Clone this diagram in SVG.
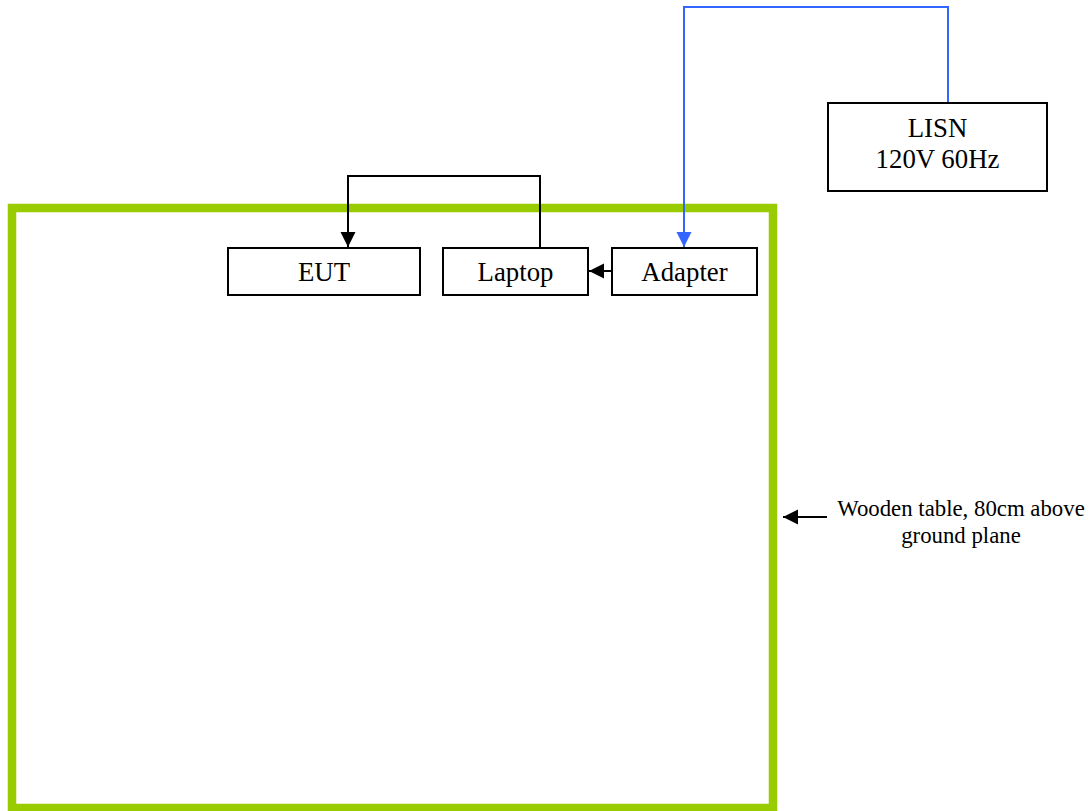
<svg xmlns="http://www.w3.org/2000/svg" width="1092" height="811" viewBox="0 0 1092 811">
<style>
.box{fill:#fff;stroke:#000;stroke-width:2}
.t{font-family:"Liberation Serif","Times New Roman",serif;font-size:26.8px;fill:#000;text-anchor:middle}
.s{font-family:"Liberation Serif","Times New Roman",serif;font-size:22.8px;fill:#000;text-anchor:middle}
.blk{fill:none;stroke:#000;stroke-width:2}
.blu{fill:none;stroke:#3366FF;stroke-width:2}
</style>
<defs>
<marker id="ab" markerUnits="userSpaceOnUse" markerWidth="16" markerHeight="16" refX="15" refY="7.5" orient="auto" viewBox="0 0 16 16"><path d="M0,0 L15,7.5 L0,15 Z" fill="#000"/></marker>
<marker id="au" markerUnits="userSpaceOnUse" markerWidth="16" markerHeight="16" refX="15" refY="7.5" orient="auto" viewBox="0 0 16 16"><path d="M0,0 L15,7.5 L0,15 Z" fill="#3366FF"/></marker>
</defs>
<rect width="1092" height="811" fill="#fff"/>
<g id="table">
<rect x="12" y="208" width="761" height="600" fill="none" stroke="#99CC00" stroke-width="8.5"/>
</g>
<g id="connectors">
<path class="blk" d="M540,247 V176 H348 V247" marker-end="url(#ab)"/>
<path class="blk" d="M612,271 H589" marker-end="url(#ab)"/>
<path class="blu" d="M948,103 V7 H684 V247" marker-end="url(#au)"/>
<path class="blk" d="M827,517 H783" marker-end="url(#ab)"/>
</g>
<g id="eut"><rect class="box" x="228" y="248" width="192" height="47"/><text class="t" x="324" y="281">EUT</text></g>
<g id="laptop"><rect class="box" x="443" y="248" width="145" height="47"/><text class="t" x="515.5" y="281">Laptop</text></g>
<g id="adapter"><rect class="box" x="612" y="248" width="145" height="47"/><text class="t" x="684.5" y="281">Adapter</text></g>
<g id="lisn"><rect class="box" x="828" y="103" width="219" height="88"/><text class="t" x="937.5" y="137">LISN</text><text class="t" x="937.5" y="168">120V 60Hz</text></g>
<g id="label"><text class="s" x="961" y="516">Wooden table, 80cm above</text><text class="s" x="961" y="543">ground plane</text></g>
</svg>
